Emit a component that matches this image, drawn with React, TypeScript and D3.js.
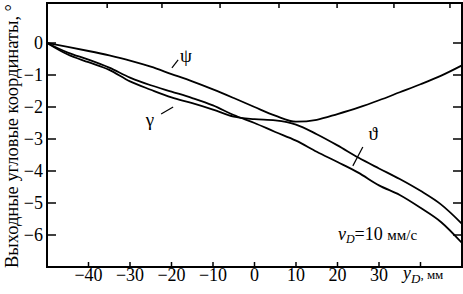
import React from 'react';
import * as d3 from 'd3';

// y_D, mm
const yD = [-50, -45, -40, -35, -30, -25, -20, -15, -10, -5, 0, 5, 10, 15, 20, 25, 30, 35, 40, 45, 50];
// output angular coordinates, degrees
const psi = [0, -0.12, -0.25, -0.39, -0.55, -0.74, -0.97, -1.2, -1.45, -1.72, -2.0, -2.27, -2.46, -2.4, -2.22, -2.02, -1.79, -1.54, -1.29, -1.02, -0.7];
const gamma = [0, -0.36, -0.6, -0.84, -1.2, -1.46, -1.7, -1.88, -2.08, -2.3, -2.38, -2.42, -2.55, -2.85, -3.2, -3.58, -3.92, -4.25, -4.62, -5.05, -5.65];
const theta = [0, -0.3, -0.52, -0.77, -1.08, -1.32, -1.52, -1.72, -1.95, -2.25, -2.5, -2.78, -3.05, -3.4, -3.72, -4.05, -4.45, -4.75, -5.15, -5.6, -6.25];

const xTicks = [-40, -30, -20, -10, 0, 10, 20, 30, 40];
const xTickLabels = ['−40', '−30', '−20', '−10', '0', '10', '20', '30'];
const yTicks = [0, -1, -2, -3, -4, -5, -6];
const yTickLabels = ['0', '−1', '−2', '−3', '−4', '−5', '−6'];
const topTicks = [-35.5, -22.3, -8.3, 5.9, 19.9, 33.6, 47.1];

// curve labels: [text, labelX, labelY, leaderFromX, leaderFromY, leaderToX, leaderToY] in data units
const curveLabels: [string, number, number, number, number, number, number][] = [
  ['ψ', -16.5, -0.59, -19.9, -0.78, -18.4, -0.53],
  ['γ', -25.2, -2.6, -22.5, -2.22, -19.6, -2.0],
  ['ϑ', 28.6, -3.03, 26.1, -3.25, 23.7, -3.84],
];

const FONT = "'Liberation Serif', 'DejaVu Serif', serif";
const txt = { fontFamily: FONT };

export default function App() {
  const W = 463, H = 294;
  const x = d3.scaleLinear().domain([-50, 50]).range([47, 462]);
  const y = d3.scaleLinear().domain([-7, 1.25]).range([267, 3]);
  const line = d3
    .line<[number, number]>()
    .x((d) => x(d[0]))
    .y((d) => y(d[1]))
    .curve(d3.curveMonotoneX);
  const series = [psi, gamma, theta].map((s) => yD.map((v, i) => [v, s[i]] as [number, number]));
  const [x0, x1] = x.range();
  const [yb, yt] = y.range();

  return (
    <svg width={W} height={H} style={{ position: 'absolute', left: 0, top: 0, background: '#fff' }}>
      <rect x={0} y={0} width={W} height={H} fill="#fff" />
      {series.map((d, i) => (
        <path key={i} d={line(d) || ''} fill="none" stroke="#000" strokeWidth={1.8} strokeLinejoin="round" />
      ))}
      {/* frame */}
      <rect x={x0} y={yt} width={x1 - x0} height={yb - yt} fill="none" stroke="#000" strokeWidth={2} />
      {/* bottom ticks */}
      {xTicks.map((t) => (
        <line key={'b' + t} x1={x(t)} x2={x(t)} y1={yb} y2={yb - 5} stroke="#000" strokeWidth={1.5} />
      ))}
      {topTicks.map((t) => (
        <line key={'t' + t} x1={x(t)} x2={x(t)} y1={yt} y2={yt + 5} stroke="#000" strokeWidth={1.5} />
      ))}
      {yTicks.map((t) => (
        <g key={'y' + t}>
          <line x1={x0} x2={x0 + 9} y1={y(t)} y2={y(t)} stroke="#000" strokeWidth={1.5} />
          <line x1={x1} x2={x1 - 9} y1={y(t)} y2={y(t)} stroke="#000" strokeWidth={1.5} />
        </g>
      ))}
      {/* tick labels */}
      {xTickLabels.map((l, i) => (
        <text key={'xl' + i} style={txt} x={x(xTicks[i])} y={281} fontSize={18} textAnchor="middle">
          {l}
        </text>
      ))}
      {yTickLabels.map((l, i) => (
        <text key={'yl' + i} style={txt} x={43} y={y(yTicks[i])} dy="0.35em" fontSize={18} textAnchor="end">
          {l}
        </text>
      ))}
      {/* axis titles */}
      <text style={txt} transform={`translate(18, 268) rotate(-90)`} fontSize={18} textAnchor="start" textLength={264} lengthAdjust="spacingAndGlyphs">
        Выходные угловые координаты, °
      </text>
      <text style={txt} x={403} y={279} fontSize={18}>
        <tspan fontStyle="italic">y</tspan>
        <tspan fontStyle="italic" fontSize={13} dy={4}>D</tspan>
        <tspan fontSize={13} dy={-4}>, мм</tspan>
      </text>
      {/* curve labels */}
      {curveLabels.map(([t, lx, ly, ax, ay, bx, by]) => (
        <g key={t}>
          <text style={txt} x={x(lx)} y={y(ly)} fontSize={19} textAnchor="middle">
            {t}
          </text>
          <line x1={x(ax)} y1={y(ay)} x2={x(bx)} y2={y(by)} stroke="#000" strokeWidth={1.2} />
        </g>
      ))}
      {/* speed annotation */}
      <text style={txt} x={x(20.1)} y={y(-6.16)} fontSize={18}>
        <tspan fontStyle="italic">v</tspan>
        <tspan fontStyle="italic" fontSize={12} dy={3}>D</tspan>
        <tspan dy={-3}>=10 </tspan>
        <tspan fontSize={15}>мм/с</tspan>
      </text>
    </svg>
  );
}
